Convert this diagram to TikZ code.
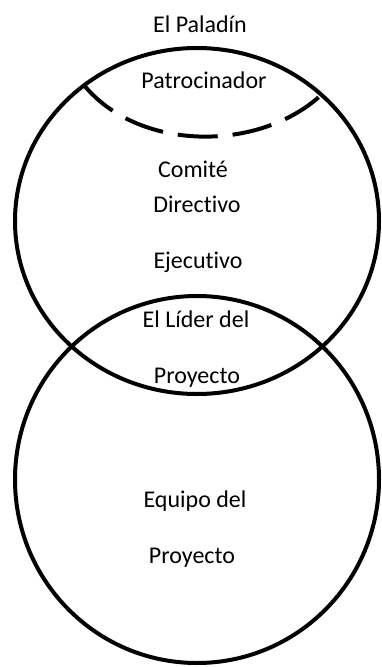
\documentclass[tikz,border=0pt]{standalone}
\usepackage{fontspec}
\setmainfont{Carlito}[RawFeature={-liga;-clig}]
\begin{document}
\begin{tikzpicture}[x=1pt,y=-1pt,
  lbl/.style={anchor=base,inner sep=0pt,font=\fontsize{24}{28}\selectfont},
  ring/.style={line width=4pt,black},
  dashring/.style={line width=4pt,black,dash pattern=on 40pt off 15pt}]
\useasboundingbox (0,0) rectangle (381,667);
\draw[ring] (197,221) ellipse [x radius=182pt, y radius=173pt];
\draw[ring] (197,479.5) ellipse [x radius=182pt, y radius=183.5pt];
\coordinate (dl) at (83,84);
\coordinate (dr) at (320,96);
\draw[dashring] (dl) .. controls (138,152) and (258,152) .. (dr);
\node[lbl] (paladin) at (200,32) {El Paladín};
\node[lbl] (patro) at (204,88) {Patrocinador};
\node[lbl] (comite) at (193,177) {Comité};
\node[lbl] (directivo) at (197,212) {Directivo};
\node[lbl] (ejecutivo) at (198,268) {Ejecutivo};
\node[lbl] (lider) at (196,327) {El Líder del};
\node[lbl] (proy1) at (197,383) {Proyecto};
\node[lbl] (equipo) at (195,507) {Equipo del};
\node[lbl] (proy2) at (192,563) {Proyecto};
\end{tikzpicture}
\end{document}
